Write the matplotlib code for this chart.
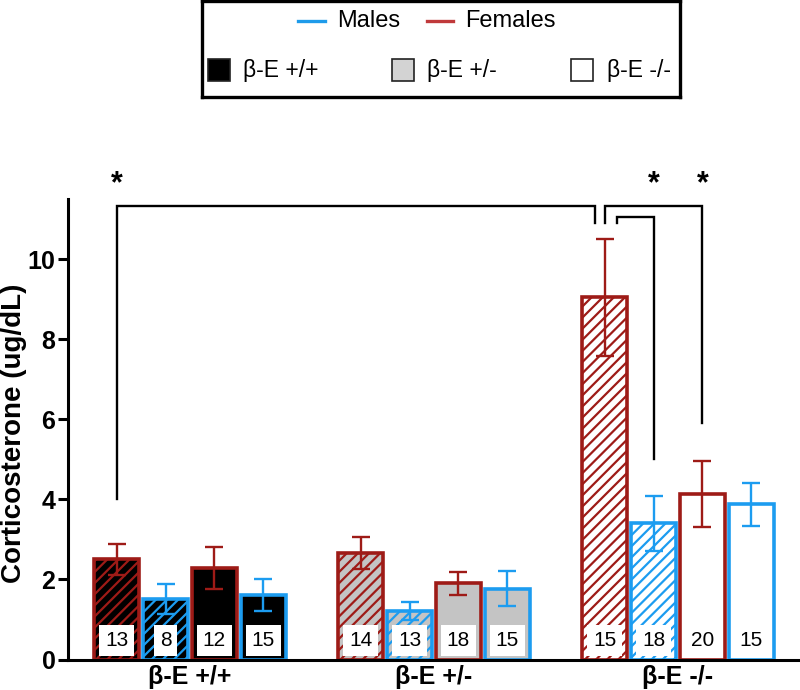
import matplotlib
matplotlib.use("Agg")
import matplotlib.pyplot as plt
from matplotlib.patches import Rectangle
from matplotlib.lines import Line2D
import numpy as np

plt.rcParams['font.family'] = ['Liberation Sans', 'DejaVu Sans']
plt.rcParams['hatch.linewidth'] = 1.6

# ---------------- data ----------------
genotypes = ['β-E +/+', 'β-E +/-', 'β-E -/-']
bar_sex = ['F', 'M', 'F', 'M']            # order of bars inside each genotype group
bar_hatched = [True, True, False, False]   # hatched vs plain condition
means_wt = [2.50, 1.51, 2.28, 1.61]
means_het = [2.65, 1.21, 1.90, 1.77]
means_ko = [9.05, 3.40, 4.14, 3.88]
sems_wt = [0.38, 0.38, 0.52, 0.39]
sems_het = [0.40, 0.23, 0.29, 0.44]
sems_ko = [1.46, 0.69, 0.83, 0.54]
n_wt = [13, 8, 12, 15]
n_het = [14, 13, 18, 15]
n_ko = [15, 18, 20, 15]

# significance brackets: (start group, start bar, start offset, start y,
#                         top y, end group, end bar, end offset, end y)
brackets = [
    (0, 0, 0.00, 4.0, 11.33, 2, 0, -0.21, 10.9),
    (2, 0, 0.00, 10.9, 11.33, 2, 2, 0.00, 5.9),
    (2, 0, 0.24, 10.9, 11.07, 2, 1, 0.00, 5.0),
]
stars = [(0, 0), (2, 1), (2, 2)]
star_y = 11.88

means = [means_wt, means_het, means_ko]
sems = [sems_wt, sems_het, sems_ko]
ns = [n_wt, n_het, n_ko]

# ---------------- style ----------------
sex_color = {'F': '#9E1B17', 'M': '#1C9CF0'}
legend_color = {'F': '#C0393B', 'M': '#1E9BEA'}
geno_face = ['black', '#C4C4C4', 'white']
group_gap = 5.0
offsets = [-1.5, -0.5, 0.5, 1.5]

fig = plt.figure(figsize=(8, 6.9), dpi=100)
ax = fig.add_axes([68 / 800, 1 - 659.5 / 690, 732 / 800, (659.5 - 199.3) / 690])


def xpos(g, b):
    return g * group_gap + offsets[b]


for g in range(3):
    for b in range(4):
        x = xpos(g, b)
        c = sex_color[bar_sex[b]]
        ax.bar(x, means[g][b], width=0.93, color=geno_face[g], edgecolor=c,
               linewidth=2.6, hatch='///' if bar_hatched[b] else None, zorder=2)
        ax.errorbar(x, means[g][b], yerr=sems[g][b], color=c, elinewidth=1.7,
                    capsize=6.4, capthick=1.7, fmt='none', zorder=3)
        ax.text(x, 0.48, str(ns[g][b]), ha='center', va='center', fontsize=15,
                color='black', zorder=4,
                bbox=dict(boxstyle='square,pad=0.28', fc='white', ec='none'))

for (g0, b0, o0, y0, yt, g1, b1, o1, y1) in brackets:
    xa = xpos(g0, b0) + o0
    xb = xpos(g1, b1) + o1
    ax.plot([xa, xa, xb, xb], [y0, yt, yt, y1], color='black', lw=1.7,
            solid_joinstyle='miter', clip_on=False, zorder=5)

for (g, b) in stars:
    ax.text(xpos(g, b), star_y, '*', ha='center', va='center', fontsize=22,
            fontweight='bold')

ax.set_xlim(-2.5, 12.5)
ax.set_ylim(0, 11.5)
ax.set_yticks(np.arange(0, 11, 2))
ax.set_xticks([g * group_gap for g in range(3)])
ax.set_xticklabels(genotypes, fontsize=18, fontweight='bold')
for lab in ax.get_yticklabels():
    lab.set_fontweight('bold')
    lab.set_fontsize(18)
ax.tick_params(axis='y', length=7, width=2.2, pad=2)
ax.tick_params(axis='x', length=0, pad=4)
for s in ['top', 'right']:
    ax.spines[s].set_visible(False)
for s in ['left', 'bottom']:
    ax.spines[s].set_linewidth(2.2)
    ax.spines[s].set_zorder(6)
fig.text(14 / 800, 1 - 433.5 / 690, 'Corticosterone (ug/dL)', rotation=90,
         ha='center', va='center', fontsize=20, fontweight='bold')

# ---------------- legend box ----------------
lx0, lx1, ly0, ly1 = 201.7, 680.0, 1.0, 97.0
lax = fig.add_axes([lx0 / 800, 1 - ly1 / 690, (lx1 - lx0) / 800, (ly1 - ly0) / 690])
lax.set_xlim(0, lx1 - lx0)
lax.set_ylim(ly1 - ly0, 0)
lax.set_xticks([])
lax.set_yticks([])
for s in lax.spines.values():
    s.set_linewidth(2.4)

row1_y = 20
lax.add_line(Line2D([96.3, 123.3], [row1_y, row1_y], color=legend_color['M'], lw=2.4))
lax.text(135.3, row1_y, 'Males', ha='left', va='center', fontsize=17)
lax.add_line(Line2D([225.3, 251.3], [row1_y, row1_y], color=legend_color['F'], lw=2.4))
lax.text(263.3, row1_y, 'Females', ha='left', va='center', fontsize=17)

row2_y = 69
sq = 22
for sx, tx, face, label in [(6.3, 41.3, geno_face[0], genotypes[0]),
                            (190.3, 225.3, '#D3D3D3', genotypes[1]),
                            (369.3, 405.3, geno_face[2], genotypes[2])]:
    lax.add_patch(Rectangle((sx, row2_y - sq / 2), sq, sq, facecolor=face,
                            edgecolor='#222222', lw=1.2))
    lax.text(tx, row2_y, label, ha='left', va='center', fontsize=16.5)

fig.savefig('out.png', dpi=100)
